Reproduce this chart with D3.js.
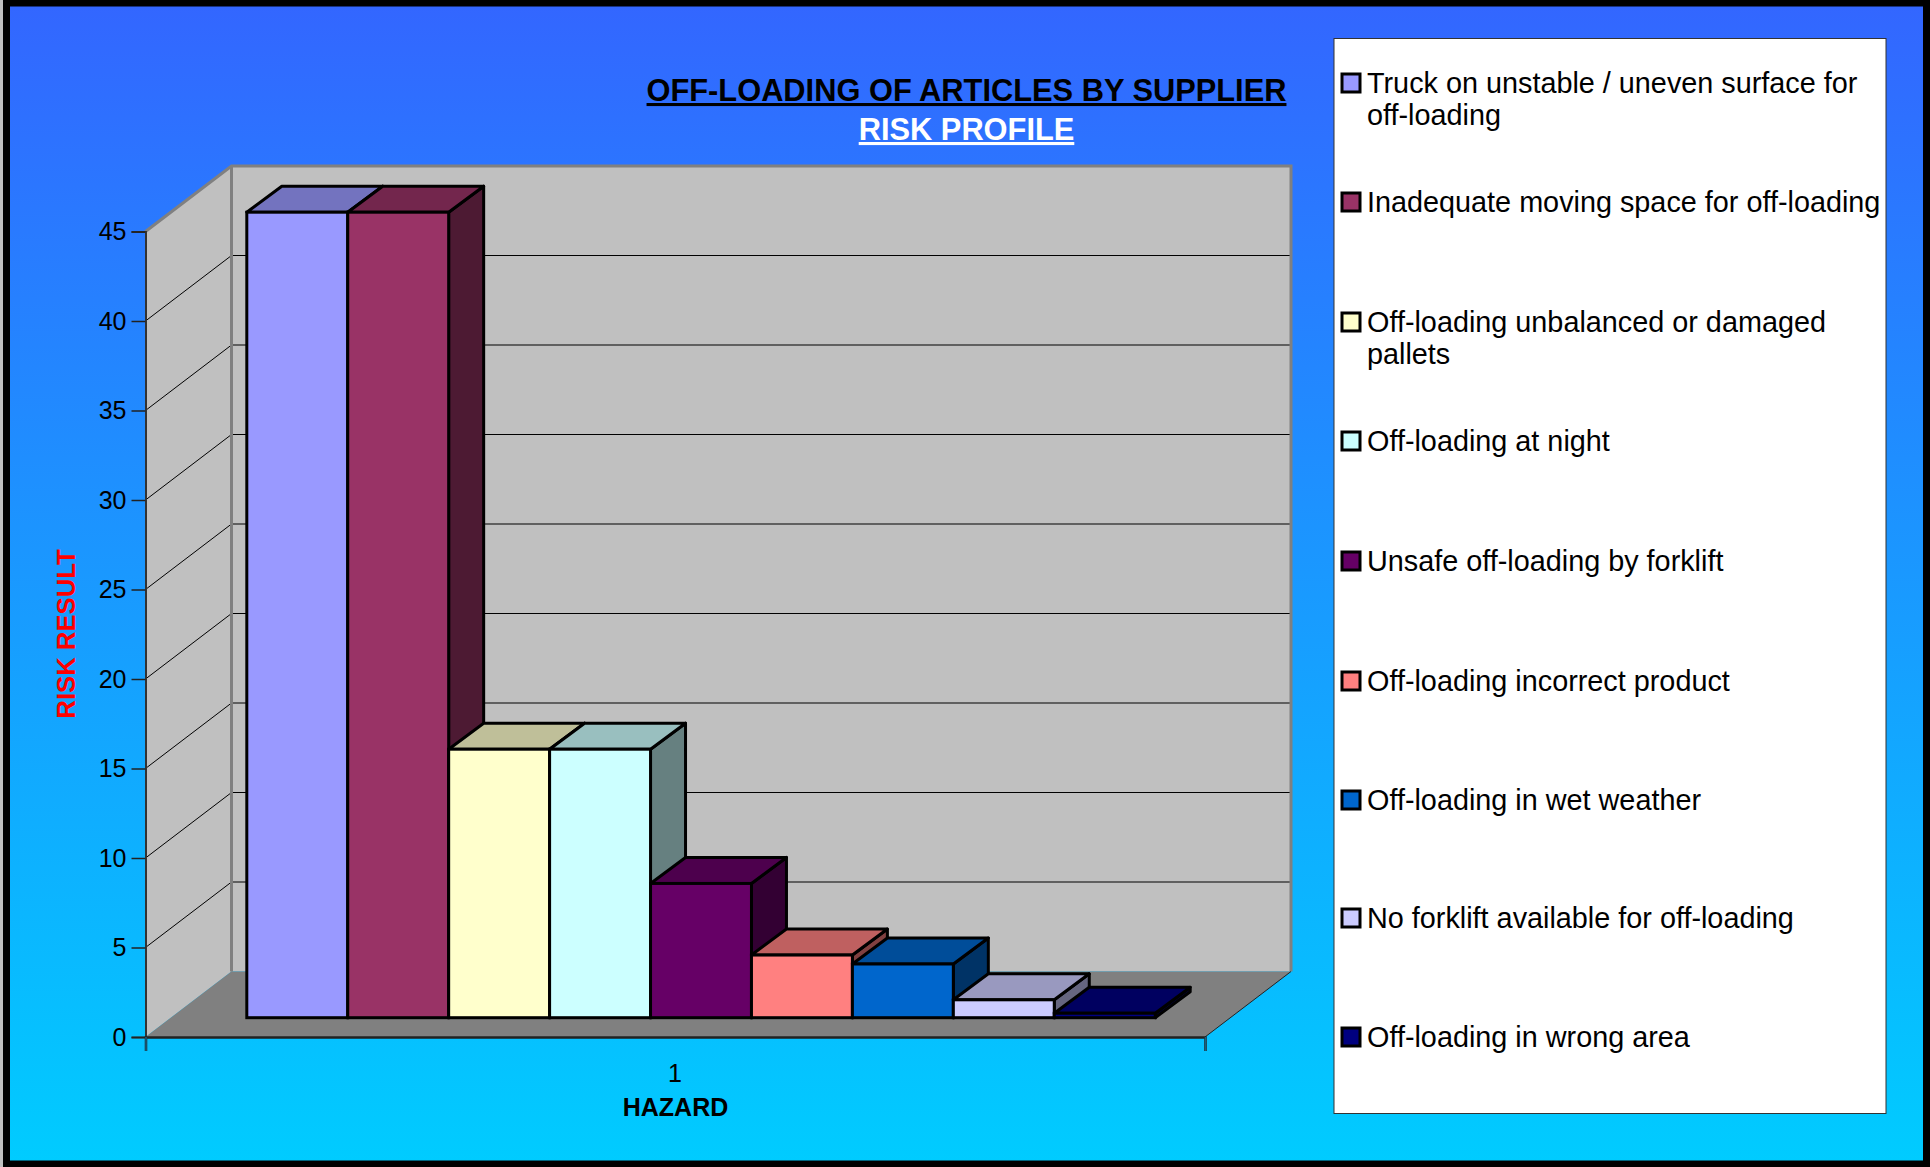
<!DOCTYPE html>
<html><head><meta charset="utf-8">
<style>html,body{margin:0;padding:0;background:#000}svg{display:block}text{font-family:"Liberation Sans",Arial,sans-serif}</style>
<script src="https://cdnjs.cloudflare.com/ajax/libs/d3/7.8.5/d3.min.js"></script></head><body>
<svg id="c" width="1930" height="1167"></svg>
<script>
const hazards=["Truck on unstable / uneven surface for off-loading","Inadequate moving space for off-loading","Off-loading unbalanced or damaged pallets","Off-loading at night","Unsafe off-loading by forklift","Off-loading incorrect product","Off-loading in wet weather","No forklift available for off-loading","Off-loading in wrong area"];
const riskValues=[45,45,15,15,7.5,3.5,3,1,0.25];
const barColors=["#9999FF","#993366","#FFFFCC","#CCFFFF","#660066","#FF8080","#0066CC","#CCCCFF","#000080"];
const yTicks=[0,5,10,15,20,25,30,35,40,45];
const categoryLabel="1";
const titleLines=["OFF-LOADING OF ARTICLES BY SUPPLIER","RISK PROFILE"];

const W=1930,H=1167;
const svg=d3.select("#c");
const defs=svg.append("defs");
const g=defs.append("linearGradient").attr("id","bg").attr("x1",0).attr("y1",0).attr("x2",0).attr("y2",1);
g.append("stop").attr("offset","0").attr("stop-color","#3366FF");
g.append("stop").attr("offset","1").attr("stop-color","#00CCFF");
svg.append("rect").attr("width",W).attr("height",H).attr("fill","#c0c0c0");
svg.append("rect").attr("x",6.5).attr("y",3).attr("width",W-10).attr("height",H-3-3).attr("fill","url(#bg)").attr("stroke","#000").attr("stroke-width",7);

// plot frame
const x0=145.5,x1=1205,dx=86,dy=-65.5;
const y=d3.scaleLinear().domain([0,45]).range([1037,231.5]);
const pt=(a)=>a.map(p=>p.join(",")).join(" ");
const poly=(pts,fill,stroke,sw)=>svg.append("polygon").attr("points",pt(pts)).attr("fill",fill).attr("stroke",stroke||"none").attr("stroke-width",sw||0).attr("stroke-linejoin","miter");
// side wall
poly([[x0,y(0)],[x0+dx,y(0)+dy],[x0+dx,y(45)+dy],[x0,y(45)]],"#C0C0C0");
// back wall
poly([[x0+dx,y(0)+dy],[x1+dx,y(0)+dy],[x1+dx,y(45)+dy],[x0+dx,y(45)+dy]],"#C0C0C0");
// floor
poly([[x0,y(0)],[x1,y(0)],[x1+dx,y(0)+dy],[x0+dx,y(0)+dy]],"#808080");
// gridlines
const gl=svg.append("g").attr("stroke","#000").attr("stroke-width",1).attr("fill","none");
yTicks.filter(t=>t>0&&t<45).forEach(t=>{
  gl.append("polyline").attr("points",pt([[x0,y(t)],[x0+dx,y(t)+dy],[x1+dx,y(t)+dy]]));
});
// wall edges
const edge=svg.append("g").attr("fill","none").attr("stroke","#808080").attr("stroke-width",3);
edge.append("polyline").attr("points",pt([[x0,y(45)],[x0+dx,y(45)+dy],[x1+dx,y(45)+dy],[x1+dx,y(0)+dy]]));
edge.append("line").attr("x1",x0+dx).attr("x2",x0+dx).attr("y1",y(45)+dy).attr("y2",y(0)+dy);
svg.append("line").attr("x1",x1).attr("y1",y(0)).attr("x2",x1+dx).attr("y2",y(0)+dy).attr("stroke","#222").attr("stroke-width",1);

// bars
const bandLeft=246.8,bandRight=1155.2;
const xb=d3.scaleBand().domain(hazards).range([bandLeft,bandRight]);
const baseY=1017.7,ppu=y(0)-y(1),bdx=35,bdy=-26;
const shade=(c,k)=>{const r=d3.rgb(c);return d3.rgb(r.r*k,r.g*k,r.b*k).formatHex();};
hazards.forEach((h,i)=>{
  const l=xb(h),r=l+xb.bandwidth(),t=baseY-riskValues[i]*ppu,b=baseY;
  const bars=svg.append("g").attr("class","bar");
  const sw=3;
  bars.append("polygon").attr("points",pt([[r,t],[r+bdx,t+bdy],[r+bdx,b+bdy],[r,b]])).attr("fill",shade(barColors[i],.5)).attr("stroke","#000").attr("stroke-width",sw).attr("stroke-linejoin","round");
  bars.append("polygon").attr("points",pt([[l,t],[r,t],[r+bdx,t+bdy],[l+bdx,t+bdy]])).attr("fill",shade(barColors[i],.75)).attr("stroke","#000").attr("stroke-width",sw).attr("stroke-linejoin","round");
  bars.append("rect").attr("x",l).attr("y",t).attr("width",r-l).attr("height",b-t).attr("fill",barColors[i]).attr("stroke","#000").attr("stroke-width",sw);
});

// axes
const yAxis=d3.axisLeft(y).tickValues(yTicks).tickSize(14).tickPadding(5);
const ga=svg.append("g").attr("transform",`translate(${x0},0)`).call(yAxis);
ga.select(".domain").attr("stroke","#333").attr("stroke-width",2);
ga.selectAll(".tick line").attr("stroke","#222").attr("stroke-width",1.5);
ga.selectAll("text").attr("font-size",25).attr("fill","#000").attr("font-family","Liberation Sans");
const xs=d3.scalePoint().domain(["s","e"]).range([x0,x1]);
const xAxis=d3.axisBottom(xs).tickSize(14).tickFormat("");
const gx=svg.append("g").attr("transform",`translate(0,${y(0)})`).call(xAxis);
gx.select(".domain").attr("stroke","#222").attr("stroke-width",2.5);
gx.selectAll(".tick line").attr("stroke","#1a5f80").attr("stroke-width",1.5);

svg.append("text").attr("x",675).attr("y",1081.5).attr("text-anchor","middle").attr("font-size",25).text(categoryLabel);
svg.append("text").attr("x",675.5).attr("y",1116).attr("text-anchor","middle").attr("font-size",25).attr("font-weight","bold").text("HAZARD");
svg.append("text").attr("transform","translate(75,634) rotate(-90)").attr("text-anchor","middle").attr("font-size",25.7).attr("font-weight","bold").attr("fill","#FF0000").text("RISK RESULT");

// title
svg.append("text").attr("x",966.5).attr("y",101).attr("text-anchor","middle").attr("font-size",30.8).attr("font-weight","bold").attr("text-decoration","underline").attr("fill","#000").text(titleLines[0]);
svg.append("text").attr("x",966.5).attr("y",140).attr("text-anchor","middle").attr("font-size",30.8).attr("font-weight","bold").attr("text-decoration","underline").attr("fill","#fff").text(titleLines[1]);

// legend
svg.append("rect").attr("x",1334).attr("y",38.5).attr("width",552).attr("height",1075).attr("fill","#fff").attr("stroke","#333").attr("stroke-width",1);
const legendFont=28.8;
hazards.forEach((h,i)=>{
  const cy=[83,202,322,441,561,681,800,918,1037][i];
  svg.append("rect").attr("x",1342).attr("y",cy-9).attr("width",18).attr("height",18).attr("fill",barColors[i]).attr("stroke","#000").attr("stroke-width",3);
  const t=svg.append("text").attr("x",1367).attr("y",cy+10).attr("font-size",legendFont).attr("fill","#000");
  const words=h.split(" ");let line=[];
  let ts=t.append("tspan").attr("x",1367);
  words.forEach(w=>{
    line.push(w);ts.text(line.join(" "));
    if(ts.node().getComputedTextLength()>516){line.pop();ts.text(line.join(" "));line=[w];ts=t.append("tspan").attr("x",1367).attr("dy",32).text(w);}
  });
});
</script></body></html>
